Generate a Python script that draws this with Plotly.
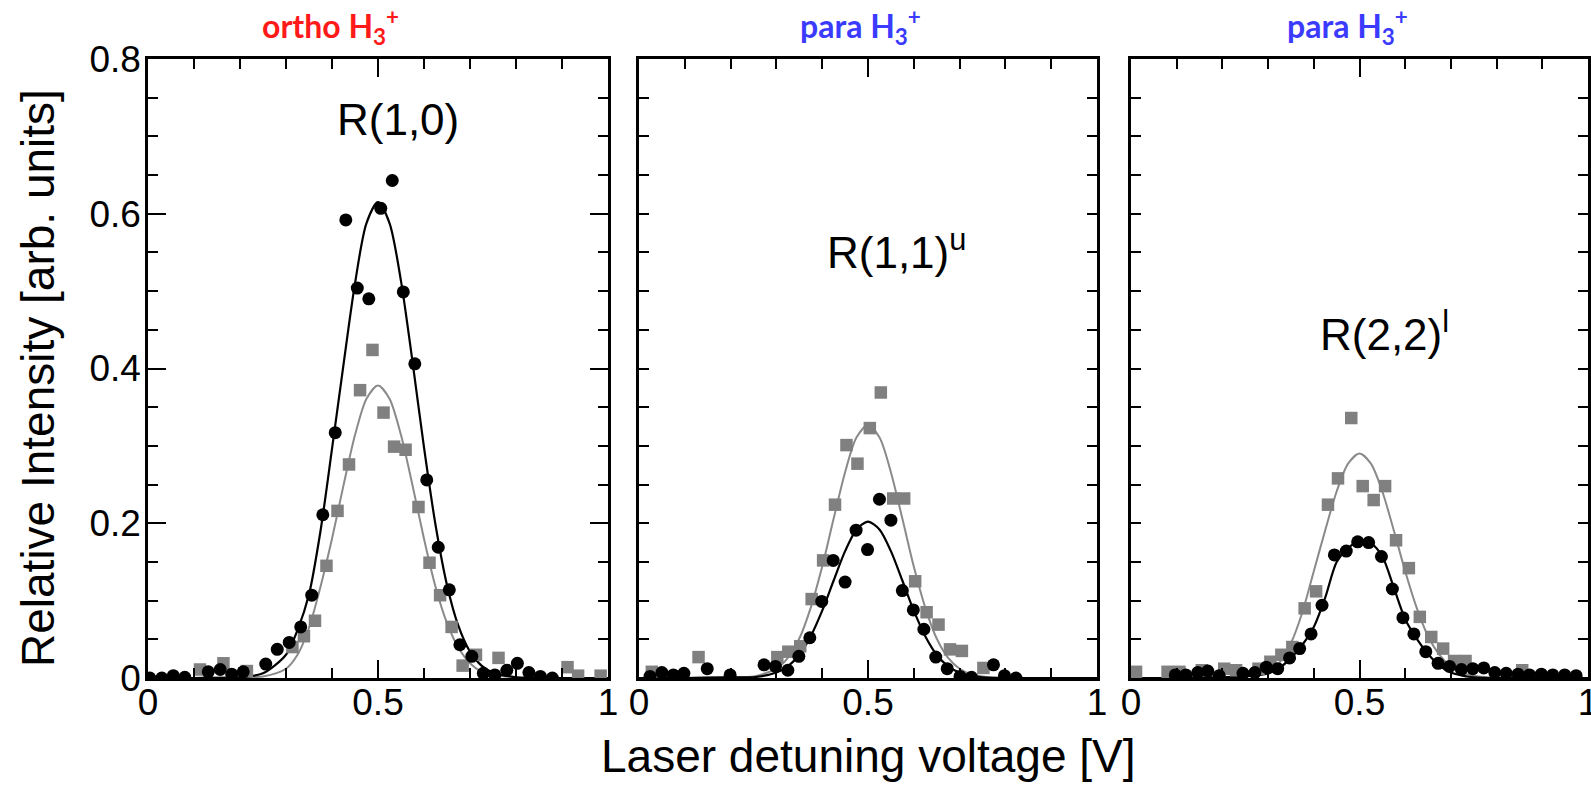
import plotly.graph_objects as go

# ---- panel 1: ortho H3+, R(1,0) ----
P1_BLACK_X = [0.004, 0.030, 0.055, 0.080, 0.131, 0.157, 0.182, 0.207, 0.256, 0.281, 0.307, 0.332,
              0.356, 0.380, 0.407, 0.430, 0.455, 0.480, 0.506, 0.531, 0.555, 0.580, 0.606, 0.631,
              0.655, 0.678, 0.704, 0.729, 0.754, 0.780, 0.803, 0.828, 0.853, 0.879]
P1_BLACK_Y = [0.000, 0.000, 0.003, 0.001, 0.008, 0.011, 0.005, 0.008, 0.018, 0.037, 0.046, 0.066,
              0.107, 0.211, 0.317, 0.592, 0.504, 0.490, 0.607, 0.643, 0.499, 0.406, 0.256, 0.169,
              0.114, 0.043, 0.028, 0.006, 0.004, 0.010, 0.019, 0.007, 0.002, 0.000]
P1_GREY_X = [0.113, 0.164, 0.215, 0.314, 0.339, 0.363, 0.388, 0.412, 0.437, 0.461, 0.488, 0.512,
             0.535, 0.560, 0.588, 0.612, 0.635, 0.660, 0.684, 0.713, 0.762, 0.912, 0.935, 0.984]
P1_GREY_Y = [0.011, 0.019, 0.009, 0.040, 0.054, 0.074, 0.145, 0.216, 0.276, 0.372, 0.424, 0.343,
             0.299, 0.295, 0.221, 0.149, 0.107, 0.066, 0.016, 0.030, 0.026, 0.014, 0.003, 0.003]

# ---- panel 2: para H3+, R(1,1)u ----
P2_BLACK_X = [0.024, 0.050, 0.075, 0.098, 0.149, 0.199, 0.273, 0.298, 0.325, 0.349, 0.373, 0.399,
              0.424, 0.450, 0.474, 0.499, 0.525, 0.550, 0.575, 0.599, 0.622, 0.648, 0.673, 0.701,
              0.726, 0.774, 0.798, 0.823]
P2_BLACK_Y = [0.002, 0.007, 0.004, 0.006, 0.012, 0.004, 0.017, 0.015, 0.010, 0.028, 0.052, 0.099,
              0.152, 0.124, 0.191, 0.166, 0.231, 0.204, 0.113, 0.088, 0.063, 0.027, 0.012, 0.002,
              0.001, 0.017, 0.003, 0.000]
P2_GREY_X = [0.028, 0.130, 0.302, 0.326, 0.352, 0.377, 0.402, 0.428, 0.453, 0.477, 0.504, 0.528,
             0.555, 0.579, 0.603, 0.628, 0.654, 0.679, 0.705, 0.752]
P2_GREY_Y = [0.008, 0.027, 0.027, 0.034, 0.041, 0.102, 0.152, 0.224, 0.301, 0.277, 0.323, 0.369,
             0.232, 0.232, 0.125, 0.085, 0.069, 0.037, 0.035, 0.013]

# ---- panel 3: para H3+, R(2,2)l ----
P3_BLACK_X = [0.097, 0.120, 0.146, 0.168, 0.193, 0.245, 0.271, 0.296, 0.321, 0.347, 0.369, 0.394,
              0.418, 0.445, 0.471, 0.496, 0.520, 0.548, 0.572, 0.595, 0.619, 0.645, 0.672, 0.697,
              0.723, 0.748, 0.772, 0.796, 0.821, 0.847, 0.872, 0.898, 0.923, 0.949, 0.974]
P3_BLACK_Y = [0.004, 0.004, 0.007, 0.009, 0.003, 0.006, 0.007, 0.014, 0.012, 0.026, 0.038, 0.057,
              0.094, 0.159, 0.164, 0.176, 0.175, 0.157, 0.115, 0.078, 0.057, 0.034, 0.019, 0.015,
              0.011, 0.012, 0.013, 0.007, 0.006, 0.005, 0.004, 0.005, 0.004, 0.004, 0.003]
P3_GREY_X = [0.011, 0.080, 0.106, 0.155, 0.204, 0.230, 0.279, 0.305, 0.329, 0.353, 0.380, 0.405,
             0.431, 0.453, 0.482, 0.507, 0.531, 0.556, 0.580, 0.608, 0.632, 0.657, 0.683, 0.707,
             0.732, 0.856]
P3_GREY_Y = [0.008, 0.008, 0.008, 0.010, 0.012, 0.010, 0.012, 0.021, 0.030, 0.040, 0.090, 0.112,
             0.224, 0.258, 0.336, 0.248, 0.230, 0.248, 0.178, 0.142, 0.079, 0.053, 0.038, 0.022,
             0.022, 0.010]

# ---- fitted line profiles, sampled along the detuning axis ----
FIT_X = [0, 0.1, 0.2, 0.25, 0.3, 0.325, 0.35, 0.375, 0.4, 0.425, 0.45, 0.475, 0.5,
         0.525, 0.55, 0.575, 0.6, 0.625, 0.65, 0.675, 0.7, 0.725, 0.75, 0.8, 0.9, 1.0]
P1_FIT_BLACK = [0, 0, 0.001, 0.006, 0.030, 0.062, 0.108, 0.190, 0.296, 0.405, 0.510, 0.588, 0.615,
                0.588, 0.513, 0.409, 0.298, 0.198, 0.120, 0.067, 0.034, 0.016, 0.007, 0.001, 0, 0]
P1_FIT_GREY = [0, 0, 0.001, 0.002, 0.012, 0.030, 0.065, 0.118, 0.180, 0.249, 0.314, 0.361, 0.378,
               0.361, 0.314, 0.249, 0.180, 0.118, 0.071, 0.039, 0.019, 0.008, 0.004, 0.001, 0, 0]
P2_FIT_BLACK = [0, 0, 0.001, 0.001, 0.007, 0.015, 0.030, 0.054, 0.087, 0.126, 0.164, 0.192, 0.202,
                0.192, 0.164, 0.126, 0.087, 0.054, 0.030, 0.015, 0.007, 0.003, 0.001, 0, 0, 0]
P2_FIT_GREY = [0, 0, 0.001, 0.002, 0.012, 0.026, 0.051, 0.091, 0.144, 0.206, 0.266, 0.311, 0.327,
               0.311, 0.266, 0.206, 0.144, 0.091, 0.051, 0.026, 0.012, 0.005, 0.002, 0, 0, 0]
P3_FIT_BLACK = [0, 0, 0.001, 0.002, 0.006, 0.013, 0.026, 0.043, 0.066, 0.104, 0.150, 0.168, 0.177,
                0.174, 0.157, 0.117, 0.076, 0.051, 0.031, 0.016, 0.007, 0.003, 0.001, 0, 0, 0]
P3_FIT_GREY = [0, 0, 0.001, 0.002, 0.008, 0.020, 0.045, 0.085, 0.138, 0.191, 0.241, 0.277, 0.290,
               0.277, 0.241, 0.191, 0.138, 0.091, 0.054, 0.030, 0.015, 0.007, 0.003, 0, 0, 0]

PANEL_TITLES = ["ortho H<sub>3</sub><sup>+</sup>", "para H<sub>3</sub><sup>+</sup>",
                "para H<sub>3</sub><sup>+</sup>"]
TITLE_COLORS = ["#ff1a1a", "#3b3bff", "#3b3bff"]
LINE_LABELS = ["R(1,0)", "R(1,1)<sup>u</sup>", "R(2,2)<sup>l</sup>"]
X_TICKS = [0, 0.5, 1]
X_TICK_TEXT = ["0", "0.5", "1"]
Y_TICKS = [0, 0.2, 0.4, 0.6, 0.8]
Y_TICK_TEXT = ["0", "0.2", "0.4", "0.6", "0.8"]

W, H = 1591, 789
PANEL_PX = [(148, 608), (639, 1097), (1131, 1588)]
TOP_PX, BOTTOM_PX = 59, 678
GREY_MARK = "#808080"
GREY_LINE = "#8a8a8a"
TICK_FONT = dict(family="Liberation Sans, Arial, sans-serif", size=37, color="black")

panels = [
    (P1_BLACK_X, P1_BLACK_Y, P1_GREY_X, P1_GREY_Y, P1_FIT_BLACK, P1_FIT_GREY),
    (P2_BLACK_X, P2_BLACK_Y, P2_GREY_X, P2_GREY_Y, P2_FIT_BLACK, P2_FIT_GREY),
    (P3_BLACK_X, P3_BLACK_Y, P3_GREY_X, P3_GREY_Y, P3_FIT_BLACK, P3_FIT_GREY),
]

fig = go.Figure()
for i, (bx, by, gx, gy, fb, fg) in enumerate(panels):
    xa = "x" if i == 0 else f"x{i + 1}"
    ya = "y" if i == 0 else f"y{i + 1}"
    fig.add_trace(go.Scatter(x=FIT_X, y=fg, mode="lines", xaxis=xa, yaxis=ya,
                             line=dict(color=GREY_LINE, width=2, shape="spline", smoothing=0.8),
                             showlegend=False, hoverinfo="skip"))
    fig.add_trace(go.Scatter(x=FIT_X, y=fb, mode="lines", xaxis=xa, yaxis=ya,
                             line=dict(color="black", width=2.2, shape="spline", smoothing=0.8),
                             showlegend=False, hoverinfo="skip"))
    fig.add_trace(go.Scatter(x=gx, y=gy, mode="markers", xaxis=xa, yaxis=ya,
                             marker=dict(symbol="square", size=12.5, color=GREY_MARK, line=dict(width=0)),
                             showlegend=False))
    fig.add_trace(go.Scatter(x=bx, y=by, mode="markers", xaxis=xa, yaxis=ya,
                             marker=dict(symbol="circle", size=13, color="black", line=dict(width=0)),
                             showlegend=False))

ydom = [1 - BOTTOM_PX / H, 1 - TOP_PX / H]
axis_common = dict(showline=True, linecolor="black", linewidth=2.5, mirror="allticks",
                   ticks="inside", ticklen=18, tickwidth=2, tickcolor="black", automargin=False,
                   showgrid=False, zeroline=False, tickfont=TICK_FONT, fixedrange=True)
layout = {}
for i, (l, r) in enumerate(PANEL_PX):
    xk = "xaxis" if i == 0 else f"xaxis{i + 1}"
    yk = "yaxis" if i == 0 else f"yaxis{i + 1}"
    xa_anchor = "x" if i == 0 else f"x{i + 1}"
    ya_anchor = "y" if i == 0 else f"y{i + 1}"
    layout[xk] = dict(axis_common, domain=[l / W, r / W], range=[0, 1], anchor=ya_anchor,
                      tickvals=X_TICKS, ticktext=X_TICK_TEXT, ticklabelstandoff=-10,
                      ticklabeloverflow="allow",
                      minor=dict(dtick=0.1, tick0=0, ticks="inside", ticklen=10, tickwidth=2,
                                 tickcolor="black"))
    layout[yk] = dict(axis_common, domain=ydom, range=[0, 0.8], anchor=xa_anchor,
                      tickvals=Y_TICKS, ticktext=Y_TICK_TEXT if i == 0 else [""] * len(Y_TICKS),
                      showticklabels=(i == 0), ticklabelstandoff=-3,
                      minor=dict(dtick=0.05, tick0=0, ticks="inside", ticklen=10, tickwidth=2,
                                 tickcolor="black"))

annotations = []
title_centers = [330, 860, 1347]
for cx, txt, col in zip(title_centers, PANEL_TITLES, TITLE_COLORS):
    annotations.append(dict(x=cx / W, y=1 - 26 / H, xref="paper", yref="paper", text=f"<b>{txt}</b>",
                            showarrow=False, xanchor="center", yanchor="middle",
                            font=dict(family="Lato, Open Sans, sans-serif", size=32, color=col)))

label_pos = [(335, 119), (825, 250), (1318, 331)]
for (lx, ly), txt in zip(label_pos, LINE_LABELS):
    annotations.append(dict(x=lx / W, y=1 - ly / H, xref="paper", yref="paper", text=txt,
                            showarrow=False, xanchor="left", yanchor="middle",
                            font=dict(family="Liberation Sans, Arial, sans-serif", size=44,
                                      color="black")))

annotations.append(dict(x=868 / W, y=1 - 756 / H, xref="paper", yref="paper",
                        text="Laser detuning voltage [V]", showarrow=False,
                        xanchor="center", yanchor="middle",
                        font=dict(family="Liberation Sans, Arial, sans-serif", size=46, color="black")))
annotations.append(dict(x=38 / W, y=1 - 378 / H, xref="paper", yref="paper",
                        text="Relative Intensity [arb. units]", showarrow=False, textangle=-90,
                        xanchor="center", yanchor="middle",
                        font=dict(family="Liberation Sans, Arial, sans-serif", size=46, color="black")))

fig.update_layout(width=W, height=H,
                  margin=dict(l=0, r=0, t=0, b=0, pad=0, autoexpand=False),
                  paper_bgcolor="white", plot_bgcolor="white",
                  annotations=annotations, **layout)

fig.write_html("out.html", config={"displayModeBar": False})
